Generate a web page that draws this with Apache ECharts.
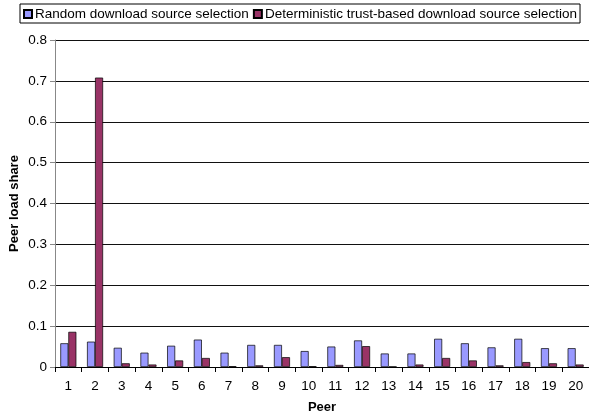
<!DOCTYPE html>
<html>
<head>
<meta charset="utf-8">
<script src="https://cdn.jsdelivr.net/npm/echarts@6/dist/echarts.min.js"></script>
<style>
html,body{margin:0;padding:0;background:#fff;}
#c{width:589px;height:415px;}
</style>
</head>
<body>
<div id="c"></div>
<script>
var peers = ['1','2','3','4','5','6','7','8','9','10','11','12','13','14','15','16','17','18','19','20'];
var randomSel = [0.058,0.062,0.047,0.035,0.052,0.067,0.035,0.054,0.054,0.039,0.050,0.065,0.033,0.033,0.069,0.058,0.048,0.069,0.046,0.046];
var trustSel = [0.086,0.708,0.009,0.006,0.016,0.022,0.002,0.004,0.024,0.002,0.005,0.051,0.001,0.006,0.022,0.016,0.004,0.012,0.009,0.006];
var seriesNames = ['Random download source selection','Deterministic trust-based download source selection'];

var chart = echarts.init(document.getElementById('c'), null, {renderer:'canvas'});
var font = 'Liberation Sans, Arial, sans-serif';
chart.setOption({
  backgroundColor:'#fff',
  animation:false,
  legend:{
    top:4, left:20,
    padding:[3,3,2,3],
    borderColor:'#000', borderWidth:1,
    itemWidth:8, itemHeight:8, itemGap:4,
    icon:'rect',
    textStyle:{fontFamily:font, fontSize:13.5, color:'#000', padding:[0,0,0,-2]},
    data:seriesNames
  },
  grid:{left:55, right:0, top:40, bottom:48, containLabel:false, outerBoundsMode:'none'},
  xAxis:{
    type:'category', data:peers,
    name:'Peer', nameLocation:'middle', nameGap:34, nameMoveOverlap:false,
    nameTextStyle:{fontFamily:font, fontSize:13, fontWeight:'bold', color:'#000'},
    axisLine:{lineStyle:{color:'#000'}},
    axisTick:{show:true, length:5, lineStyle:{color:'#000'}},
    axisLabel:{fontFamily:font, fontSize:13.5, color:'#000', margin:12}
  },
  yAxis:{
    type:'value', min:0, max:0.8, interval:0.1,
    name:'Peer load share', nameLocation:'middle', nameGap:34, nameMoveOverlap:false,
    nameTextStyle:{fontFamily:font, fontSize:13, fontWeight:'bold', color:'#000'},
    axisLine:{show:true, lineStyle:{color:'#888'}},
    axisTick:{show:true, length:5, lineStyle:{color:'#888'}},
    axisLabel:{fontFamily:font, fontSize:13.5, color:'#000', margin:8},
    splitLine:{lineStyle:{color:'#111', width:1}}
  },
  series:[
    {name:seriesNames[0], type:'bar', data:randomSel, barGap:'0%', barCategoryGap:'40%',
     itemStyle:{color:'#9999FF', borderColor:'#000', borderWidth:0.7}},
    {name:seriesNames[1], type:'bar', data:trustSel, barGap:'0%', barCategoryGap:'40%',
     itemStyle:{color:'#993366', borderColor:'#000', borderWidth:0.7}}
  ]
});
</script>
</body>
</html>
